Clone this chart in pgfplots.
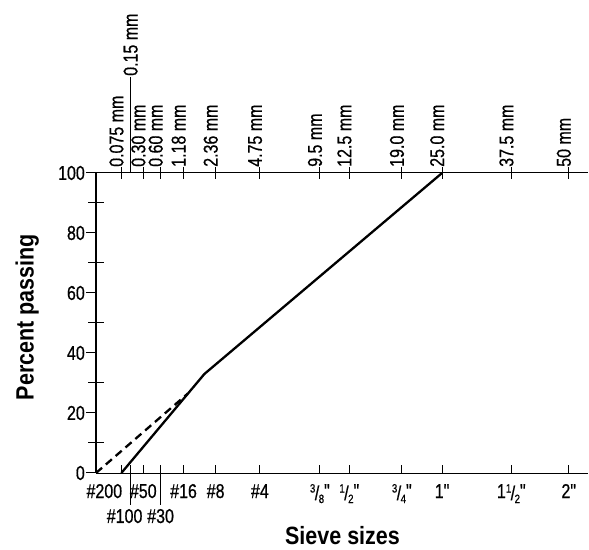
\documentclass[border=0pt]{standalone}
\usepackage{fontspec}
\setmainfont[FakeStretch=0.8, FakeBold=0.6, Ligatures=TeXOff]{Liberation Sans}
\newfontfamily\labfont[FakeStretch=0.86]{Liberation Sans}
\usepackage{pgfplots}
\pgfplotsset{compat=1.18}
\newcommand{\fr}[2]{\raisebox{5.5bp}{\fontsize{12bp}{12bp}\selectfont #1}\kern-0.5bp\raisebox{-2bp}{/}\kern-0.5bp\raisebox{-5bp}{\fontsize{12bp}{12bp}\selectfont #2}}
\pgfplotsset{base/.style={scale only axis, width=492bp, height=300bp,
  xmin=0, xmax=6.052, ymin=0, ymax=100,
  axis line style={-, line width=1bp, black},
  every tick/.style={black, line width=1bp},
  tick label style={font=\fontsize{20bp}{20bp}\selectfont, inner sep=1bp},
  /pgf/number format/assume math mode=true}}
\begin{document}
\begin{tikzpicture}
% main data axis + bottom short ticks + y axis line
\begin{axis}[base, axis y line*=left, axis x line*=bottom, ytick=\empty,
  tick align=inside, major tick length=8bp,
  xtick={0.3118,0.4258,0.5817,0.7946,1.077,1.4717,2.016,2.754,3.116,3.762,4.257,5.109,5.815},
  xticklabels={\makebox[0pt]{\#200\kern34bp},{},\#50,{},\#16,\#8,\#4,\fr{3}{8}",\fr{1}{2}",\fr{3}{4}",1",1\fr{1}{2}",2"},
  xticklabel style={anchor=base, yshift=-25bp},
  xlabel={\fontsize{25bp}{25bp}\labfont\bfseries Sieve sizes},
  xlabel style={at={(axis description cs:0.501,-0.207)}, anchor=center},
  clip=false]
\coordinate (ll) at (rel axis cs:0,0);
\coordinate (ur) at (rel axis cs:1,1);
\addplot[black, line width=2.3bp, dash pattern=on 8bp off 5bp] coordinates {(0,0) (1.13,26.5)};
\addplot[black, line width=2.3bp] coordinates {(0.3118,0) (1.333,33) (4.257,100)};
\end{axis}
% bottom long ticks
\begin{axis}[base, hide y axis, axis x line*=bottom,
  tick align=outside, major tick length=32bp,
  xtick={0.4258,0.7946}, xticklabels={\makebox[0pt]{\#100\kern12bp},\#30},
  xticklabel style={anchor=base, yshift=-18bp}]
\end{axis}
% top ticks
\begin{axis}[base, hide y axis, axis x line*=top,
  tick align=center, major tick length=12bp,
  xtick={0.3118,0.5817,0.7946,1.077,1.4717,2.016,2.754,3.116,3.762,4.257,5.109,5.815},
  xticklabels={0.075 mm,0.30 mm,0.60 mm,1.18 mm,2.36 mm,4.75 mm,9.5 mm,12.5 mm,19.0 mm,25.0 mm,37.5 mm,50 mm},
  xticklabel style={rotate=90, anchor=base west, yshift=-2bp, xshift=-1bp}]
\end{axis}
\begin{axis}[base, hide y axis, axis x line*=top,
  tick align=outside, major tick length=96bp,
  xtick={0.4258}, xticklabels={0.15 mm},
  xticklabel style={rotate=90, anchor=west}]
\end{axis}
% y axis major
\begin{axis}[base, hide x axis, axis y line*=left,
  tick align=outside, major tick length=10bp,
  ytick={0,20,40,60,80,100},
  ylabel={\fontsize{25bp}{25bp}\labfont\bfseries Percent passing},
  ylabel style={at={(axis description cs:-0.140,0.52)}, anchor=center}]
\end{axis}
% y axis minor
\begin{axis}[base, hide x axis, axis y line*=left,
  axis line style={draw=none},
  tick align=center, major tick length=16bp,
  ytick={10,30,50,70,90}, yticklabels={}]
\end{axis}
\pgfresetboundingbox
\path[use as bounding box] (ll) ++(-96bp,-77bp) coordinate (a) (ur) ++(1bp,173bp) coordinate (b);
\path[use as bounding box] (a) rectangle (b);
\end{tikzpicture}
\end{document}
